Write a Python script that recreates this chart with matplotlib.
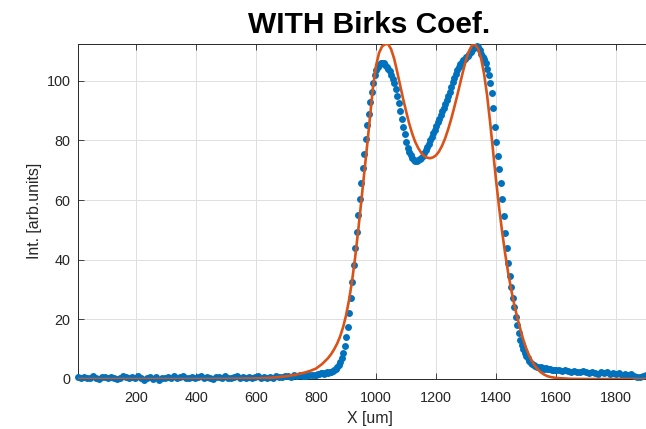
import matplotlib
matplotlib.use('Agg')
import matplotlib.pyplot as plt

plt.rcParams['font.family'] = ['Liberation Sans', 'DejaVu Sans']

# ---------------- data ----------------
title_text = "WITH Birks Coef."
x_label = "X [um]"
y_label = "Int. [arb.units]"

x_ticks = [200, 400, 600, 800, 1000, 1200, 1400, 1600, 1800]
x_tick_labels = ["200", "400", "600", "800", "1000", "1200", "1400", "1600", "1800"]
y_ticks = [0, 20, 40, 60, 80, 100]
y_tick_labels = ["0", "20", "40", "60", "80", "100"]

# measured points (blue dots) - flat left part
blue_x_left = [5, 15, 25, 35, 45, 55, 65, 75, 85, 95,
               105, 115, 125, 135, 145, 155, 165, 175, 185, 195,
               205, 215, 225, 235, 245, 255, 265, 275, 285, 295,
               305, 315, 325, 335, 345, 355, 365, 375, 385, 395,
               405, 415, 425, 435, 445, 455, 465, 475, 485, 495,
               505, 515, 525, 535, 545, 555, 565, 575, 585, 595,
               605, 615, 625, 635, 645, 655, 665, 675, 685, 695,
               705, 715, 725, 735, 745, 755, 765, 775, 785, 795]
blue_y_left = [0.6, 0.3, 0.8, 0.2, 0.5, 0.9, 0.4, 0.1, 0.6, 0.7,
               0.3, 0.8, 0.5, 0.0, 0.4, 1.0, 0.6, 0.2, 0.7, 0.3,
               0.9, 0.5, -0.2, 0.4, 0.8, 0.1, 0.6, -0.3, 0.5, 0.2,
               0.7, 0.4, 0.9, 0.3, 0.6, 1.0, 0.5, 0.2, 0.8, 0.4,
               0.6, 0.9, 0.3, 0.7, 0.5, 0.1, 0.8, 0.6, 0.4, 0.9,
               0.5, 0.2, 0.7, 1.0, 0.4, 0.6, 0.3, 0.8, 0.5, 0.7,
               0.9, 0.4, 0.6, 0.2, 0.8, 0.5, 1.0, 0.7, 0.6, 0.9,
               1.1, 0.8, 1.2, 0.9, 1.3, 1.1, 1.0, 1.4, 1.2, 1.5]

# measured points - double peak part
blue_x_mid = [800, 805, 810, 815, 820, 825, 830, 835, 840, 845,
              850, 855, 860, 865, 870, 875, 880, 885, 890, 895,
              900, 905, 910, 915, 920, 925, 930, 935, 940, 945,
              950, 955, 960, 965, 970, 975, 980, 985, 990, 995,
              1000, 1005, 1010, 1015, 1020, 1025, 1030, 1035, 1040, 1045,
              1050, 1055, 1060, 1065, 1070, 1075, 1080, 1085, 1090, 1095,
              1100, 1105, 1110, 1115, 1120, 1125, 1130, 1135, 1140, 1145,
              1150, 1155, 1160, 1165, 1170, 1175, 1180, 1185, 1190, 1195,
              1200, 1205, 1210, 1215, 1220, 1225, 1230, 1235, 1240, 1245,
              1250, 1255, 1260, 1265, 1270, 1275, 1280, 1285, 1290, 1295,
              1300, 1305, 1310, 1315, 1320, 1325, 1330, 1335, 1340, 1345,
              1350, 1355, 1360, 1365, 1370, 1375, 1380, 1385, 1390, 1395,
              1400, 1405, 1410, 1415, 1420, 1425, 1430, 1435, 1440, 1445,
              1450, 1455, 1460, 1465, 1470, 1475, 1480, 1485, 1490, 1495,
              1500, 1505, 1510, 1515, 1520, 1525, 1530, 1535, 1540, 1545,
              1550, 1555, 1560, 1565, 1570, 1575, 1580, 1585, 1590, 1595,
              1600]
blue_y_mid = [1.5, 1.8, 1.6, 1.9, 2.0, 1.8, 2.1, 2.2, 2.0, 2.4,
              2.5, 2.7, 3.0, 3.4, 3.9, 4.6, 5.6, 7.0, 8.8, 11.0,
              14.0, 17.5, 22.0, 27.2, 32.6, 38.2, 43.8, 49.4, 55.0, 60.4,
              65.6, 70.6, 75.5, 80.5, 85.0, 89.0, 92.8, 96.2, 99.3, 101.8,
              103.5, 104.6, 105.3, 105.8, 106.0, 105.8, 105.3, 104.7, 104.0, 103.1,
              102.0, 100.7, 99.2, 97.3, 95.0, 92.4, 89.8, 87.2, 84.6, 82.0,
              79.6, 77.6, 76.1, 75.0, 74.0, 73.3, 73.0, 73.1, 73.4, 73.7,
              74.1, 74.8, 75.7, 76.7, 77.7, 78.8, 80.0, 81.2, 82.4, 83.6,
              84.8, 86.0, 87.2, 88.4, 89.7, 90.9, 92.2, 93.4, 94.8, 96.3,
              97.9, 99.4, 100.9, 102.3, 103.6, 104.7, 105.6, 106.3, 106.9, 107.4,
              107.9, 108.4, 108.9, 109.5, 110.2, 110.9, 111.4, 111.6, 111.2, 110.2,
              108.9, 108.0, 107.2, 105.8, 104.0, 102.0, 99.3, 96.0, 90.8, 84.5,
              79.3, 74.8, 70.3, 65.6, 60.3, 54.6, 48.8, 43.8, 38.9, 34.6,
              30.8, 27.1, 24.0, 20.9, 18.1, 15.3, 13.2, 11.5, 10.1, 8.8,
              7.8, 6.9, 6.1, 5.5, 5.0, 4.6, 4.3, 4.1, 3.9, 3.8,
              4.0, 3.7, 3.5, 3.7, 3.4, 3.2, 3.3, 3.0, 3.1, 2.9,
              3.0]

# measured points - right tail
blue_x_right = [1610, 1620, 1630, 1640, 1650, 1660, 1670, 1680, 1690, 1700,
                1710, 1720, 1730, 1740, 1750, 1760, 1770, 1780, 1790, 1800,
                1810, 1820, 1830, 1840, 1850, 1860, 1870, 1880, 1890, 1900,
                1910, 1920, 1930, 1940, 1950]
blue_y_right = [2.9, 2.6, 3.1, 2.7, 2.4, 2.8, 2.5, 2.2, 2.6, 2.3,
                2.0, 2.4, 2.1, 1.8, 2.3, 1.9, 2.2, 1.7, 2.0, 1.6,
                1.9, 1.5, 1.8, 1.3, 1.6, 1.1, 0.7, 0.6, 1.0, 1.3,
                1.2, 0.8, 1.1, 0.9, 1.0]

# fitted curve (orange line)
fit_x = [5, 200, 400, 500, 600, 650, 700, 730, 760, 780, 800, 820,
         840, 850, 860, 870, 880, 890, 900, 910, 920, 930,
         940, 950, 960, 970, 980, 990, 1000, 1010, 1020, 1030,
         1040, 1050, 1060, 1070, 1080, 1090, 1100, 1110, 1120, 1130,
         1140, 1150, 1160, 1170, 1180, 1190, 1200, 1210, 1220, 1230,
         1240, 1250, 1260, 1270, 1280, 1290, 1300, 1310, 1320, 1325, 1330,
         1340, 1350, 1360, 1370, 1380, 1390, 1400, 1410, 1420, 1430,
         1440, 1450, 1460, 1470, 1480, 1490, 1500, 1510, 1520, 1530,
         1540, 1550, 1560, 1570, 1580, 1600, 1650, 1700, 1800, 1950]
fit_y = [0.0, 0.0, 0.0, 0.05, 0.2, 0.4, 0.9, 1.4, 2.1, 2.7, 3.5, 5.0,
         7.0, 8.3, 9.9, 11.8, 14.2, 17.3, 21.3, 26.5, 32.8, 40.5,
         49.3, 58.8, 68.5, 78.0, 88.0, 98.0, 105.0, 109.3, 111.5, 112.2,
         112.3, 110.6, 107.5, 103.2, 98.6, 94.0, 89.8, 85.8, 82.4, 79.6,
         77.5, 75.9, 74.8, 74.2, 74.0, 74.3, 75.0, 76.3, 78.2, 80.6,
         83.6, 87.0, 90.8, 94.8, 99.0, 103.2, 107.0, 110.0, 111.9, 112.3, 112.1,
         110.8, 107.5, 102.3, 95.2, 86.2, 76.4, 66.6, 57.6, 49.5, 42.2,
         35.8, 30.2, 25.2, 20.9, 17.0, 13.4, 10.4, 7.9, 5.9, 4.3,
         3.1, 2.2, 1.5, 1.0, 0.7, 0.35, 0.05, 0.0, 0.0, 0.0]

# ---------------- figure ----------------
W, H = 646, 429
fig = plt.figure(figsize=(W / 100, H / 100), dpi=100)
ax_left, ax_right, ax_top, ax_bottom = 77.5, 662.0, 44.0, 379.0
ax = fig.add_axes([ax_left / W, (H - ax_bottom) / H,
                   (ax_right - ax_left) / W, (ax_bottom - ax_top) / H])

blue = '#0072BD'
orange = '#D95319'
dark = '#262626'

for bx, by in ((blue_x_left, blue_y_left), (blue_x_mid, blue_y_mid), (blue_x_right, blue_y_right)):
    ax.plot(bx, by, linestyle='none', marker='o', markersize=5.0,
            markerfacecolor=blue, markeredgewidth=0, color=blue,
            clip_on=False, zorder=3)
ax.plot(fit_x, fit_y, color=orange, linewidth=1.9, zorder=4, solid_capstyle='round')

ax.set_xlim(5, 1953)
ax.set_ylim(0, 112.3)
ax.set_xticks(x_ticks)
ax.set_xticklabels(x_tick_labels)
ax.set_yticks(y_ticks)
ax.set_yticklabels(y_tick_labels)

ax.grid(True, color='#dedede', linewidth=0.7)
ax.set_axisbelow(True)
for s in ax.spines.values():
    s.set_color(dark)
    s.set_linewidth(0.7)
    s.set_zorder(2.5)
ax.tick_params(axis='both', which='major', direction='in', length=4.2, width=0.6,
               colors=dark, labelsize=10.4, top=True, right=True)
ax.tick_params(axis='x', pad=9)
ax.tick_params(axis='y', pad=5)

fig.text(369 / W, 1 - 33 / H, title_text, ha='center', va='baseline',
         fontsize=21.5, fontweight='bold', color='black')
fig.text(370 / W, 1 - 418 / H, x_label, ha='center', va='center',
         fontsize=11.4, color=dark)
fig.text(34.5 / W, 1 - 211 / H, y_label, ha='center', va='center',
         rotation=90, fontsize=11.4, color=dark)

fig.savefig('out.png', dpi=100)
